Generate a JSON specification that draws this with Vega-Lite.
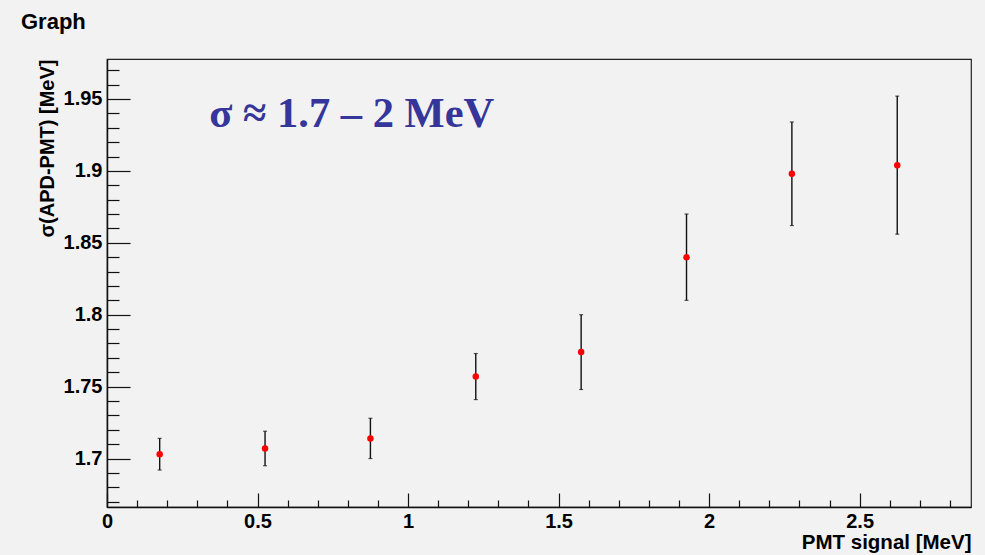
{
  "$schema": "https://vega.github.io/schema/vega-lite/v6.json",
  "autosize": "none",
  "width": 864,
  "height": 448,
  "padding": {"left": 107, "top": 59, "right": 14, "bottom": 48},
  "background": "#f2f2f2",
  "config": {
    "view": {"stroke": "#222222", "strokeWidth": 1.2},
    "font": "Liberation Sans"
  },
  "title": {
    "text": "Graph",
    "anchor": "start",
    "frame": "group",
    "dx": -86,
    "offset": 8,
    "baseline": "alphabetic",
    "font": "Liberation Sans",
    "fontSize": 22,
    "fontWeight": "bold",
    "color": "#000000"
  },
  "datasets": {
    "pts": [
      {"x": 0.175, "y": 1.703, "lo": 1.692, "hi": 1.714},
      {"x": 0.525, "y": 1.707, "lo": 1.695, "hi": 1.719},
      {"x": 0.875, "y": 1.714, "lo": 1.700, "hi": 1.728},
      {"x": 1.225, "y": 1.757, "lo": 1.741, "hi": 1.773},
      {"x": 1.575, "y": 1.774, "lo": 1.748, "hi": 1.800},
      {"x": 1.925, "y": 1.840, "lo": 1.810, "hi": 1.870},
      {"x": 2.275, "y": 1.898, "lo": 1.862, "hi": 1.934},
      {"x": 2.625, "y": 1.904, "lo": 1.856, "hi": 1.952}
    ],
    "note": [
      {"x": 0.34, "y": 1.9305, "label": "σ ≈ 1.7 – 2 MeV"}
    ]
  },
  "layer": [
    {
      "data": {"name": "pts"},
      "mark": {"type": "rule", "color": "#111111", "strokeWidth": 1.4},
      "encoding": {
        "x": {
          "field": "x", "type": "quantitative",
          "scale": {"domain": [0, 2.87], "nice": false, "zero": false},
          "axis": {
            "title": "PMT signal [MeV]",
            "values": [0, 0.1, 0.2, 0.3, 0.4, 0.5, 0.6, 0.7, 0.8, 0.9, 1, 1.1, 1.2, 1.3, 1.4, 1.5, 1.6, 1.7, 1.8, 1.9, 2, 2.1, 2.2, 2.3, 2.4, 2.5, 2.6, 2.7, 2.8],
            "tickCount": 200,
            "format": ".1~f",
            "labelExpr": "abs(datum.value*2 - round(datum.value*2)) < 1e-6 ? datum.label : ''",
            "labelOverlap": false,
            "labelFlush": false,
            "labelFont": "Liberation Sans",
            "labelFontWeight": "bold",
            "labelFontSize": 20,
            "labelColor": "#000000",
            "labelPadding": 18,
            "domainColor": "#111111",
            "domainWidth": 1.5,
            "tickColor": "#111111",
            "tickWidth": 1.2,
            "tickSize": {"condition": {"test": "abs(datum.value*2 - round(datum.value*2)) < 1e-6", "value": -14}, "value": -7},
            "grid": false,
            "titleFont": "Liberation Sans",
            "titleFontWeight": "bold",
            "titleFontSize": 20.5,
            "titleColor": "#000000",
            "titleAnchor": "end",
            "titleAlign": "right",
            "titleBaseline": "alphabetic",
            "titleX": 864,
            "titleY": 41
          }
        },
        "y": {
          "field": "lo", "type": "quantitative",
          "scale": {"domain": [1.6663, 1.9778], "nice": false, "zero": false},
          "axis": {
            "title": "σ(APD-PMT) [MeV]",
            "values": [1.67, 1.68, 1.69, 1.7, 1.71, 1.72, 1.73, 1.74, 1.75, 1.76, 1.77, 1.78, 1.79, 1.8, 1.81, 1.82, 1.83, 1.84, 1.85, 1.86, 1.87, 1.88, 1.89, 1.9, 1.91, 1.92, 1.93, 1.94, 1.95, 1.96, 1.97],
            "tickCount": 200,
            "format": ".2~f",
            "labelExpr": "abs(datum.value*20 - round(datum.value*20)) < 1e-6 ? datum.label : ''",
            "labelOverlap": false,
            "labelFlush": false,
            "labelFont": "Liberation Sans",
            "labelFontWeight": "bold",
            "labelFontSize": 20,
            "labelColor": "#000000",
            "labelPadding": 28,
            "domainColor": "#111111",
            "domainWidth": 1.5,
            "tickColor": "#111111",
            "tickWidth": 1.2,
            "tickSize": {"condition": {"test": "abs(datum.value*20 - round(datum.value*20)) < 1e-6", "value": -23}, "value": -12},
            "grid": false,
            "titleFont": "Liberation Sans",
            "titleFontWeight": "bold",
            "titleFontSize": 20,
            "titleColor": "#000000",
            "titleAngle": -90,
            "titleAlign": "right",
            "titleBaseline": "alphabetic",
            "titleX": -54,
            "titleY": 0
          }
        },
        "y2": {"field": "hi"}
      }
    },
    {
      "data": {"name": "pts"},
      "mark": {"type": "tick", "orient": "horizontal", "color": "#111111", "size": 4, "thickness": 1.2},
      "encoding": {
        "x": {"field": "x", "type": "quantitative"},
        "y": {"field": "lo", "type": "quantitative"}
      }
    },
    {
      "data": {"name": "pts"},
      "mark": {"type": "tick", "orient": "horizontal", "color": "#111111", "size": 4, "thickness": 1.2},
      "encoding": {
        "x": {"field": "x", "type": "quantitative"},
        "y": {"field": "hi", "type": "quantitative"}
      }
    },
    {
      "data": {"name": "pts"},
      "mark": {"type": "circle", "color": "#ff0000", "opacity": 1, "size": 42},
      "encoding": {
        "x": {"field": "x", "type": "quantitative"},
        "y": {"field": "y", "type": "quantitative"}
      }
    },
    {
      "data": {"name": "note"},
      "mark": {"type": "text", "align": "left", "baseline": "alphabetic", "font": "Liberation Serif", "fontWeight": "bold", "fontSize": 42.5, "color": "#35359a"},
      "encoding": {
        "x": {"field": "x", "type": "quantitative"},
        "y": {"field": "y", "type": "quantitative"},
        "text": {"field": "label"}
      }
    }
  ]
}
